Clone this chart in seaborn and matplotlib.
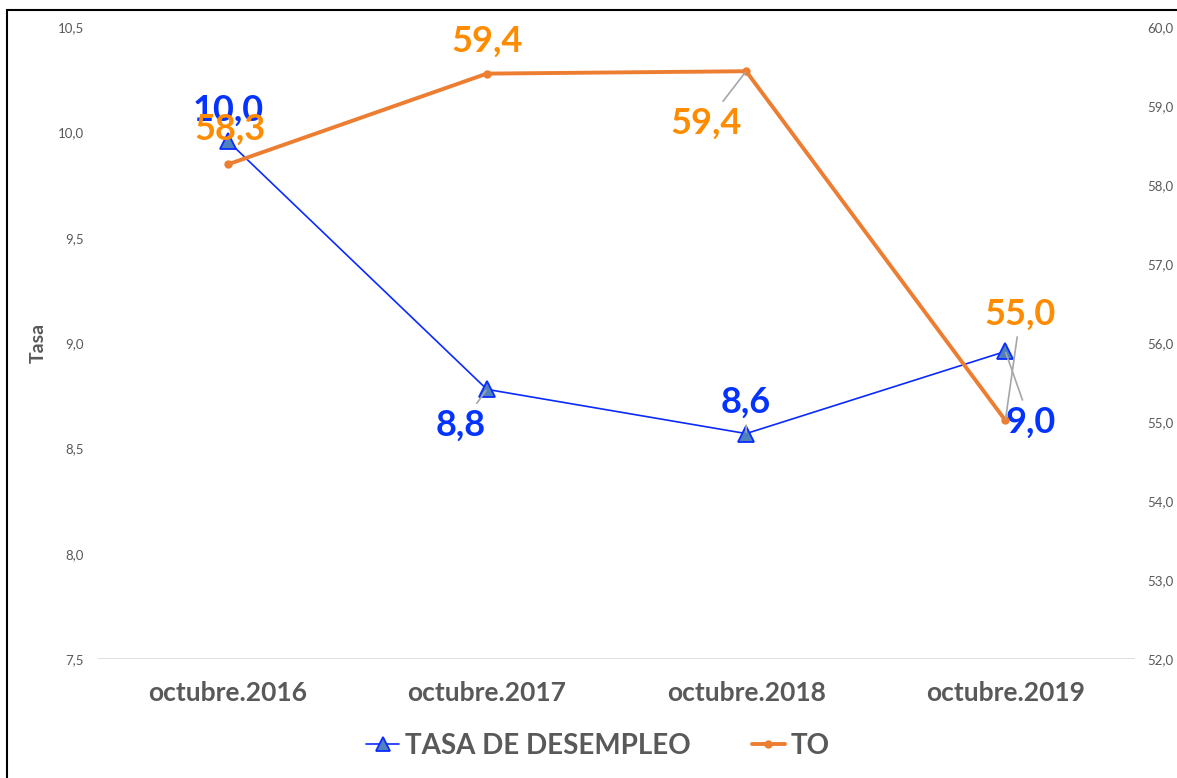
import matplotlib
matplotlib.use("Agg")
import matplotlib.pyplot as plt
import seaborn as sns
import pandas as pd
from matplotlib.patches import Rectangle
from matplotlib.lines import Line2D

categorias = ["octubre.2016", "octubre.2017", "octubre.2018", "octubre.2019"]
desempleo = [9.96, 8.78, 8.57, 8.96]
to = [58.26, 59.41, 59.44, 55.02]

azul = "#0A2BFF"
azul_txt = "#0433FF"
naranja = "#ED7D31"
naranja_txt = "#FF8C00"
gris = "#595959"

sns.set_style("white")
plt.rcParams["font.family"] = ["Lato", "DejaVu Sans"]

df = pd.DataFrame({"mes": categorias, "desempleo": desempleo, "to": to})

fig = plt.figure(figsize=(11.77, 7.78), dpi=100)
ax = fig.add_axes([98 / 1177, 1 - 659 / 778, (1135 - 98) / 1177, (659 - 27) / 778])
ax2 = ax.twinx()

sns.lineplot(data=df, x="mes", y="desempleo", ax=ax, color=azul, lw=1.2,
             marker="^", markersize=11, markerfacecolor="#4F81BD",
             markeredgecolor=azul, markeredgewidth=1.3, sort=False)
sns.lineplot(data=df, x="mes", y="to", ax=ax2, color=naranja, lw=2.8,
             marker="o", markersize=6, markeredgewidth=0, sort=False)

ax.set_ylim(7.5, 10.5)
ax2.set_ylim(52, 60)
ax.set_xlim(-0.5, 3.5)
ax.set_yticks([7.5, 8.0, 8.5, 9.0, 9.5, 10.0, 10.5])
ax2.set_yticks(range(52, 61))
ax.set_yticklabels([f"{v:.1f}".replace(".", ",") for v in ax.get_yticks()])
ax2.set_yticklabels([f"{v:.1f}".replace(".", ",") for v in ax2.get_yticks()])

for a in (ax, ax2):
    for s in a.spines.values():
        s.set_visible(False)
    a.tick_params(axis="y", length=0, labelsize=9.5, labelcolor=gris)
    a.set_xlabel("")
ax2.set_ylabel("")
ax.tick_params(axis="y", pad=10)
ax2.tick_params(axis="y", pad=9)
ax.tick_params(axis="x", length=0, pad=16)
for lbl in ax.get_xticklabels():
    lbl.set_fontsize(19)
    lbl.set_fontweight("bold")
    lbl.set_color(gris)
ax.set_ylabel("Tasa", fontsize=14, fontweight="bold", color=gris, labelpad=8)
ax.axhline(7.5, color="#D9D9D9", lw=1.2, zorder=0)

def fmt(v):
    return f"{v:.1f}".replace(".", ",")

# etiquetas de datos: (eje, indice, valor, dx, dy, color, linea guia)
etiquetas = [
    (ax, 0, desempleo[0], 1, 31, azul_txt, False),
    (ax, 1, desempleo[1], -26, -36, azul_txt, True),
    (ax, 2, desempleo[2], 0, 31, azul_txt, True),
    (ax, 3, desempleo[3], 25, -71, azul_txt, True),
    (ax2, 0, to[0], 2, 35, naranja_txt, False),
    (ax2, 1, to[1], 0, 32, naranja_txt, False),
    (ax2, 2, to[2], -40, -52, naranja_txt, True),
    (ax2, 3, to[3], 15, 106, naranja_txt, True),
]
for a, i, v, dx, dy, c, guia in etiquetas:
    props = dict(arrowstyle="-", color="#A6A6A6", lw=1.2, shrinkB=1) if guia else None
    a.annotate(fmt(v), xy=(i, v), xytext=(dx, dy), textcoords="offset pixels",
               ha="center", va="center", fontsize=26, fontweight="bold",
               color=c, arrowprops=props, zorder=5)

handles = [
    Line2D([], [], color=azul, lw=1.2, marker="^", markersize=10,
           markerfacecolor="#4F81BD", markeredgecolor=azul, markeredgewidth=1.3),
    Line2D([], [], color=naranja, lw=2.8, marker="o", markersize=6, markeredgewidth=0),
]
fig.legend(handles, ["TASA DE DESEMPLEO", "TO"], loc="center", ncol=2,
           bbox_to_anchor=(0.508, 1 - 746 / 778), frameon=False,
           prop={"size": 20, "weight": "bold"}, labelcolor=gris,
           handlelength=1.2, handletextpad=0.2, columnspacing=2.2)
if ax.get_legend():
    ax.get_legend().remove()
if ax2.get_legend():
    ax2.get_legend().remove()

fig.patches.append(Rectangle((7 / 1177, -0.05), 1.1, 1.05 - 10 / 778,
                             transform=fig.transFigure, fill=False,
                             edgecolor="black", lw=1.5, clip_on=False))

fig.savefig("out.png", dpi=100)
